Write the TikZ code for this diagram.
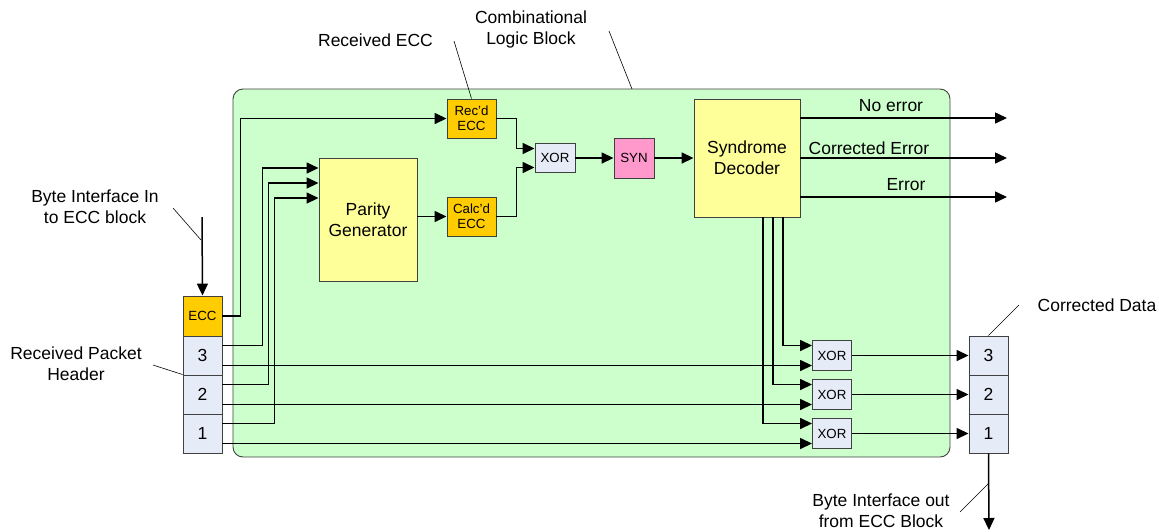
\documentclass[tikz,border=0pt]{standalone}
\usepackage{fontspec}
\setmainfont{Liberation Sans}
\usetikzlibrary{arrows.meta}

\definecolor{blockgreen}{HTML}{CCFFCC}
\definecolor{eccorange}{HTML}{FFCC00}
\definecolor{cellblue}{HTML}{E6ECF7}
\definecolor{genyellow}{HTML}{FFFF99}
\definecolor{synpink}{HTML}{FF99CC}
\definecolor{edgegray}{HTML}{404040}

\begin{document}
\begin{tikzpicture}[x=1pt, y=-1pt,
  big/.style={font=\fontsize{17.5}{21}\selectfont},
  small/.style={font=\fontsize{13.3}{15}\selectfont},
  blk/.style={draw=edgegray, line width=0.9pt, inner sep=0pt, align=center},
  cell/.style={blk, fill=cellblue, minimum width=39pt, minimum height=39pt, big},
  xorbox/.style={blk, fill=cellblue, minimum width=39pt, minimum height=30pt, small},
  eccbox/.style={blk, fill=eccorange, minimum width=49pt, minimum height=39pt, small},
  arr/.style={line width=1.5pt, -{Triangle[length=12pt,width=11pt]}},
  callout/.style={line width=0.6pt}]

  \useasboundingbox (0,0) rectangle (1159,531);

  % combinational logic block
  \draw[fill=blockgreen, draw=edgegray, line width=0.9pt, rounded corners=10pt]
    (233,89) rectangle (950,457);

  % received byte stack (left)
  \node[blk, fill=eccorange, minimum width=39pt, minimum height=40pt, small] (ecc) at (202.5,316) {ECC};
  \node[cell] (in3) at (202.5,355.5) {3};
  \node[cell] (in2) at (202.5,394.5) {2};
  \node[cell] (in1) at (202.5,433.5) {1};

  % corrected byte stack (right)
  \node[cell] (out3) at (988.5,355.5) {3};
  \node[cell] (out2) at (988.5,394.5) {2};
  \node[cell] (out1) at (988.5,433.5) {1};

  % main blocks
  \node[blk, fill=genyellow, minimum width=98pt, minimum height=123pt, big] (par) at (368,219.5) {Parity\\Generator};
  \node[eccbox] (recd) at (471.5,118.5) {Rec’d\\ECC};
  \node[eccbox] (calcd) at (471.5,216.5) {Calc’d\\ECC};
  \node[xorbox, minimum width=40pt, minimum height=29pt] (xm) at (555,158) {XOR};
  \node[blk, fill=synpink, minimum width=40pt, minimum height=40pt, small] (syn) at (634,158) {SYN};
  \node[blk, fill=genyellow, minimum width=106pt, minimum height=118pt, big] (dec) at (747,158) {Syndrome\\Decoder};

  % output XORs
  \node[xorbox] (x3) at (832,355.5) {XOR};
  \node[xorbox] (x2) at (832,394.5) {XOR};
  \node[xorbox] (x1) at (832,433.5) {XOR};

  % labels
  \node[big] (lrecv) at (375.5,40) {Received ECC};
  \node[big, align=center] (lcomb) at (531,29.5) {Combinational\\Logic Block};
  \node[big, align=center] (lin) at (95,206.5) {Byte Interface In\\to ECC block};
  \node[big, align=center] (lhdr) at (76,364) {Received Packet\\Header};
  \node[big] (lnoerr) at (891,106) {No error};
  \node[big] (lcorr) at (869,148) {Corrected Error};
  \node[big] (lerr) at (906,185) {Error};
  \node[big] (ldata) at (1097,305) {Corrected Data};
  \node[big, align=center] (lout) at (881,511) {Byte Interface out\\from ECC Block};

  % free ends
  \coordinate (bytein) at (202,217);
  \coordinate (byteout) at (989,530);
  \coordinate (enoerr) at (1007,118);
  \coordinate (ecorr) at (1007,158);
  \coordinate (eerr) at (1007,197);

  % byte interface in / out
  \draw[arr] (bytein) -- (ecc.north);
  \draw[arr] (out1.south) -- (byteout);

  % received ECC and header bytes into the parity path
  \draw[arr] (ecc.east) -- ++(18,0) |- (recd.west);
  \draw[arr] ([yshift=10pt]in3.east) -- ++(40,0) |- ([yshift=51.5pt]par.west);
  \draw[arr] ([yshift=10pt]in2.east) -- ++(46,0) |- ([yshift=36.5pt]par.west);
  \draw[arr] ([yshift=10pt]in1.east) -- ++(52,0) |- ([yshift=21.5pt]par.west);
  \draw[arr] (par.east |- calcd.west) -- (calcd.west);

  % syndrome path
  \draw[arr] (recd.east) -- ++(20,0) |- ([yshift=9.5pt]xm.west);
  \draw[arr] (calcd.east) -- ++(20,0) |- ([yshift=-9.5pt]xm.west);
  \draw[arr] (xm.east) -- (syn.west);
  \draw[arr] (syn.east) -- (dec.west);

  % decoder status outputs
  \draw[arr] ([yshift=40pt]dec.east) -- (enoerr);
  \draw[arr] (dec.east) -- (ecorr);
  \draw[arr] ([yshift=-39pt]dec.east) -- (eerr);

  % correction masks
  \draw[arr] ([xshift=36pt]dec.south) |- ([yshift=10pt]x3.west);
  \draw[arr] ([xshift=26pt]dec.south) |- ([yshift=10pt]x2.west);
  \draw[arr] ([xshift=16pt]dec.south) |- ([yshift=10pt]x1.west);

  % data bytes straight through
  \draw[arr] ([yshift=-10pt]in3.east) -- ([yshift=-10pt]x3.west);
  \draw[arr] ([yshift=-10pt]in2.east) -- ([yshift=-10pt]x2.west);
  \draw[arr] ([yshift=-10pt]in1.east) -- ([yshift=-10pt]x1.west);

  \draw[arr] (x3.east) -- (out3.west);
  \draw[arr] (x2.east) -- (out2.west);
  \draw[arr] (x1.east) -- (out1.west);

  % callout lines
  \draw[callout] (454,41) -- (recd.north);
  \draw[callout] (609,31) -- (632,89);
  \draw[callout] (173,208) -- (201,240);
  \draw[callout] (153,365) -- (in2.north west);
  \draw[callout] (1019,305) -- (out3.north);
  \draw[callout] (960,512) -- (989,483);

\end{tikzpicture}
\end{document}
